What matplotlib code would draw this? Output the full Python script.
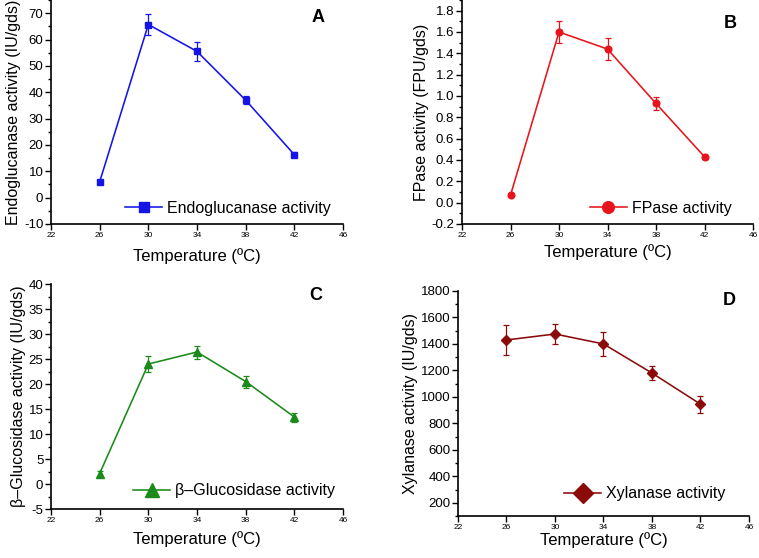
import matplotlib
matplotlib.use("Agg")
import matplotlib.pyplot as plt
from matplotlib.ticker import MultipleLocator, AutoMinorLocator

plt.rcParams['font.family'] = ['Liberation Sans', 'DejaVu Sans']

temperature = [26, 30, 34, 38, 42]
xticks = [22, 26, 30, 34, 38, 42, 46]

endo = [6.0, 65.7, 55.5, 37.0, 16.3]
endo_err = [0.6, 4.0, 3.5, 1.5, 1.0]

fpase = [0.07, 1.60, 1.44, 0.93, 0.43]
fpase_err = [0.01, 0.10, 0.10, 0.06, 0.02]

bgluc = [2.1, 24.0, 26.4, 20.5, 13.4]
bgluc_err = [0.5, 1.6, 1.3, 1.2, 0.9]

xylan = [1430, 1475, 1400, 1180, 945]
xylan_err = [110, 75, 90, 55, 65]

panels = [
    dict(y=endo, err=endo_err, color='#1414e6', marker='s', ms=4.6, mscale=1.65,
         label='Endoglucanase activity', ylabel='Endoglucanase activity (IU/gds)',
         ylim=(-10, 75), ystep=10, letter='A', xpad=6.5,
         rect=[0.0672, 0.5986, 0.3847, 0.4014],
         leg=(0.255, 0.07), let=(0.914, 0.924), fmt='{:.0f}'),
    dict(y=fpase, err=fpase_err, color='#e8141c', marker='o', ms=4.8, mscale=1.75,
         label='FPase activity', ylabel='FPase activity (FPU/gds)',
         ylim=(-0.2, 1.9), ystep=0.2, letter='B', xpad=3.5,
         rect=[0.6087, 0.5986, 0.3834, 0.4014],
         leg=(0.44, 0.07), let=(0.921, 0.897), fmt='{:.1f}'),
    dict(y=bgluc, err=bgluc_err, color='#1a8a1a', marker='^', ms=5.5, mscale=1.9,
         label='β–Glucosidase activity', ylabel='β–Glucosidase activity (IU/gds)',
         ylim=(-5, 40), ystep=5, letter='C', xpad=5,
         rect=[0.0672, 0.0878, 0.3847, 0.4032],
         leg=(0.282, 0.081), let=(0.908, 0.951), fmt='{:.0f}'),
    dict(y=xylan, err=xylan_err, color='#8b0a0a', marker='D', ms=5.2, mscale=1.9,
         label='Xylanase activity', ylabel='Xylanase activity (IU/gds)',
         ylim=(100, 1800), ystep=200, letter='D', xpad=0.5,
         rect=[0.6034, 0.0753, 0.3834, 0.4032],
         leg=(0.366, 0.098), let=(0.931, 0.956), fmt='{:.0f}'),
]

fig = plt.figure(figsize=(7.59, 5.58), dpi=100)

for p in panels:
    ax = fig.add_axes(p['rect'])
    ax.errorbar(temperature, p['y'], yerr=p['err'], color=p['color'],
                fmt='none', elinewidth=0.9, capsize=2.5, capthick=0.9)
    ax.plot(temperature, p['y'], color=p['color'], marker=p['marker'],
            ms=p['ms'], lw=1.15, label=p['label'])
    ax.set_xlim(22, 46)
    ax.set_ylim(*p['ylim'])
    ax.set_xticks(xticks)
    ax.yaxis.set_major_locator(MultipleLocator(p['ystep']))
    ax.yaxis.set_minor_locator(AutoMinorLocator(2))
    ax.yaxis.set_major_formatter(lambda v, pos, f=p['fmt']: f.format(v))
    for s in ['top', 'right']:
        ax.spines[s].set_visible(False)
    ax.spines['left'].set_linewidth(1.2)
    ax.spines['bottom'].set_linewidth(1.2)
    ax.tick_params(axis='y', which='major', length=4, width=1, labelsize=9.5, pad=1.5)
    ax.tick_params(axis='y', which='minor', length=2, width=1)
    ax.tick_params(axis='x', which='major', length=4, width=1, labelsize=6, pad=2)
    ax.set_xlabel('Temperature (ºC)', fontsize=12, labelpad=p['xpad'])
    ax.set_ylabel(p['ylabel'], fontsize=11.5, labelpad=2)
    ax.text(p['let'][0], p['let'][1], p['letter'], transform=ax.transAxes,
            fontsize=13, fontweight='bold', ha='center', va='center')
    ax.legend(loc='center left', bbox_to_anchor=p['leg'], frameon=False,
              fontsize=11.5, handlelength=2.3, handletextpad=0.3, borderpad=0,
              borderaxespad=0, markerscale=p['mscale'])

fig.savefig('out.png', dpi=100)
